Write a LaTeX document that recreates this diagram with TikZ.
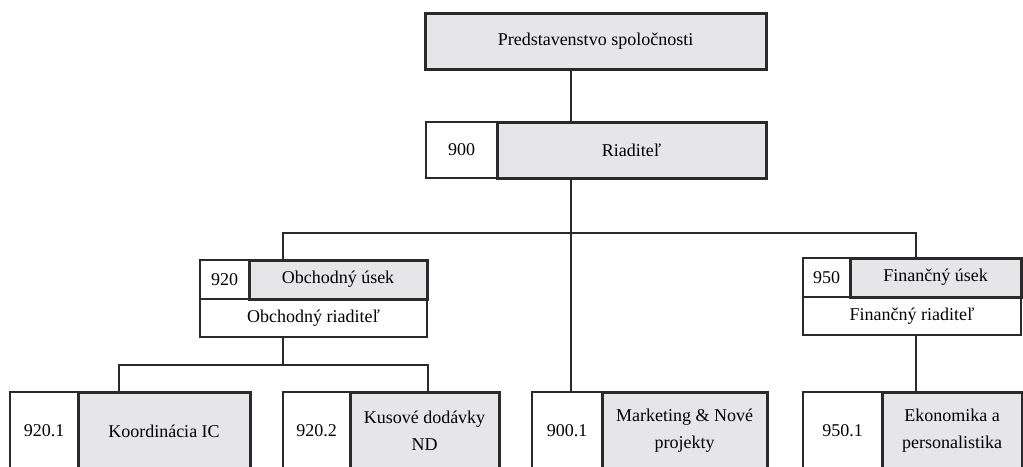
\documentclass[tikz,border=0pt]{standalone}
\usepackage{fontspec}
\setmainfont{Liberation Serif}
\definecolor{bordc}{HTML}{2A2A2A}
\definecolor{boxgray}{HTML}{E6E6E8}
\begin{document}
\begin{tikzpicture}[x=1pt,y=-1pt,
  every node/.style={inner sep=0pt, font=\fontsize{18}{27}\selectfont, align=center},
  whitebox/.style={draw=bordc, line width=1.4pt, fill=white},
  graybox/.style={draw=bordc, line width=3pt, fill=boxgray},
  conn/.style={draw=bordc, line width=1.8pt}]
\clip (0,0) rectangle (1023,466);
\fill[white] (0,0) rectangle (1023,466);
% coordinates of connector bends
\coordinate (spine) at (571,233);
\coordinate (busL) at (283,233);
\coordinate (busR) at (916,233);
\coordinate (subL) at (119,365);
\coordinate (subR) at (428,365);
% white boxes
\node[whitebox, minimum width=71pt, minimum height=56pt] (w900) at (461.5,150) {900};
\node[whitebox, minimum width=49pt, minimum height=39pt] (w920) at (224.5,279.5) {920};
\node[whitebox, minimum width=227pt, minimum height=38pt] (obchR) at (313.5,318) {Obchodný riaditeľ};
\node[whitebox, minimum width=47pt, minimum height=39pt] (w950) at (826.5,277.5) {950};
\node[whitebox, minimum width=218pt, minimum height=38pt] (finR) at (912,316) {Finančný riaditeľ};
\node[whitebox, minimum width=68pt, minimum height=78pt] (w9201) at (44,431) {920.1};
\node[whitebox, minimum width=67pt, minimum height=78pt] (w9202) at (316.5,431) {920.2};
\node[whitebox, minimum width=70pt, minimum height=78pt] (w9001) at (567,431) {900.1};
\node[whitebox, minimum width=79pt, minimum height=78pt] (w9501) at (842.5,431) {950.1};
% gray boxes
\node[graybox, minimum width=341pt, minimum height=56pt] (top) at (595.5,41) {Predstavenstvo spoločnosti};
\node[graybox, minimum width=269pt, minimum height=56pt] (riad) at (631.5,150) {Riaditeľ};
\node[graybox, minimum width=178pt, minimum height=39pt] (obch) at (338,279.5) {Obchodný úsek};
\node[graybox, minimum width=171pt, minimum height=39pt] (fin) at (935.5,277.5) {Finančný úsek};
\node[graybox, minimum width=172pt, minimum height=78pt] (g9201) at (164,431) {Koordinácia IC};
\node[graybox, minimum width=149pt, minimum height=78pt] (g9202) at (424.5,431) {Kusové dodávky\\ND};
\node[graybox, minimum width=165pt, minimum height=78pt] (g9001) at (684.5,431) {Marketing \& Nové\\projekty};
\node[graybox, minimum width=140pt, minimum height=78pt] (g9501) at (952,431) {Ekonomika a\\personalistika};
% connectors
\draw[conn] (top.south -| spine) -- (riad.north -| spine);
\draw[conn] (riad.south -| spine) -- (w9001.north -| spine);
\draw[conn] (obch.north -| busL) -- (busL) -- (busR) -- (fin.north -| busR);
\draw[conn] (obchR.south -| busL) -- (busL |- subL);
\draw[conn] (g9201.north -| subL) -- (subL) -- (subR) -- (g9202.north -| subR);
\draw[conn] (finR.south -| busR) -- (g9501.north -| busR);
\end{tikzpicture}
\end{document}
